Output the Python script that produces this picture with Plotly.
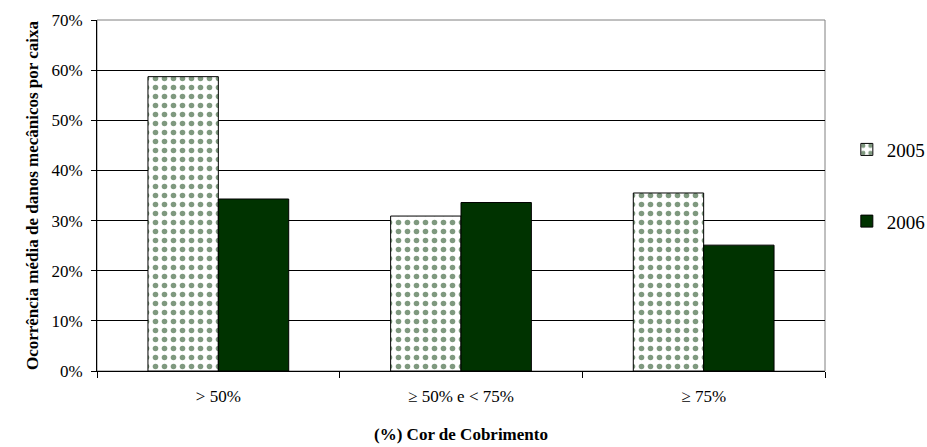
import plotly.graph_objects as go

categories = ["> 50%", "\u2265 50% e < 75%", "\u2265 75%"]
series_names = ["2005", "2006"]
values_2005 = [0.587, 0.309, 0.355]
values_2006 = [0.343, 0.336, 0.251]
y_ticks = [0, 0.1, 0.2, 0.3, 0.4, 0.5, 0.6, 0.7]
y_tick_labels = ["0%", "10%", "20%", "30%", "40%", "50%", "60%", "70%"]

SERIF = "Liberation Serif"
DARK_GREEN = "#003300"

fig = go.Figure()
fig.add_trace(go.Bar(
    name=series_names[0], x=categories, y=values_2005,
    legendgroup="a",
    marker=dict(
        color="white",
        line=dict(color="black", width=1),
        pattern=dict(shape=".", fgcolor=DARK_GREEN, bgcolor="white",
                     fillmode="overlay", size=9, solidity=0.3),
    ),
))
fig.add_trace(go.Bar(
    name=series_names[1], x=categories, y=values_2006,
    legendgroup="b",
    marker=dict(color=DARK_GREEN, line=dict(color="black", width=1)),
))

fig.update_layout(
    width=927, height=447,
    margin=dict(l=97, r=102, t=20, b=76, autoexpand=False),
    paper_bgcolor="white", plot_bgcolor="white",
    barmode="group", bargap=0.42, bargroupgap=0,
    font=dict(family=SERIF, size=17, color="black"),
    showlegend=True,
    legend=dict(x=1.03, y=0.685, xanchor="left", yanchor="top",
                font=dict(family=SERIF, size=19), tracegroupgap=44,
                itemwidth=30, bgcolor="rgba(0,0,0,0)"),
)
fig.update_xaxes(
    type="category", tickson="boundaries", ticks="outside", ticklen=6,
    tickcolor="black", showline=True, linecolor="black", linewidth=1,
    showgrid=False, mirror=False, ticklabelstandoff=10,
    tickfont=dict(family=SERIF, size=17),
    title=dict(text="<b>(%) Cor de Cobrimento</b>", font=dict(family=SERIF, size=17), standoff=22),
)
fig.update_yaxes(
    range=[0, 0.7], tickvals=y_ticks, ticktext=y_tick_labels,
    ticks="outside", ticklen=5, tickcolor="black",
    showline=True, linecolor="black", linewidth=1,
    showgrid=True, gridcolor="black", gridwidth=1, zeroline=False,
    ticklabelstandoff=5,
    tickfont=dict(family=SERIF, size=17),
    title=dict(text="<b>Ocorrência média de danos mecânicos por caixa</b>",
               font=dict(family=SERIF, size=17), standoff=8),
)
# plot-area frame on the top and right edges
fig.add_shape(type="rect", xref="paper", yref="paper", x0=0, x1=1, y0=0, y1=1,
              line=dict(color="#808080", width=1), layer="below")

fig.write_html("out.html")
